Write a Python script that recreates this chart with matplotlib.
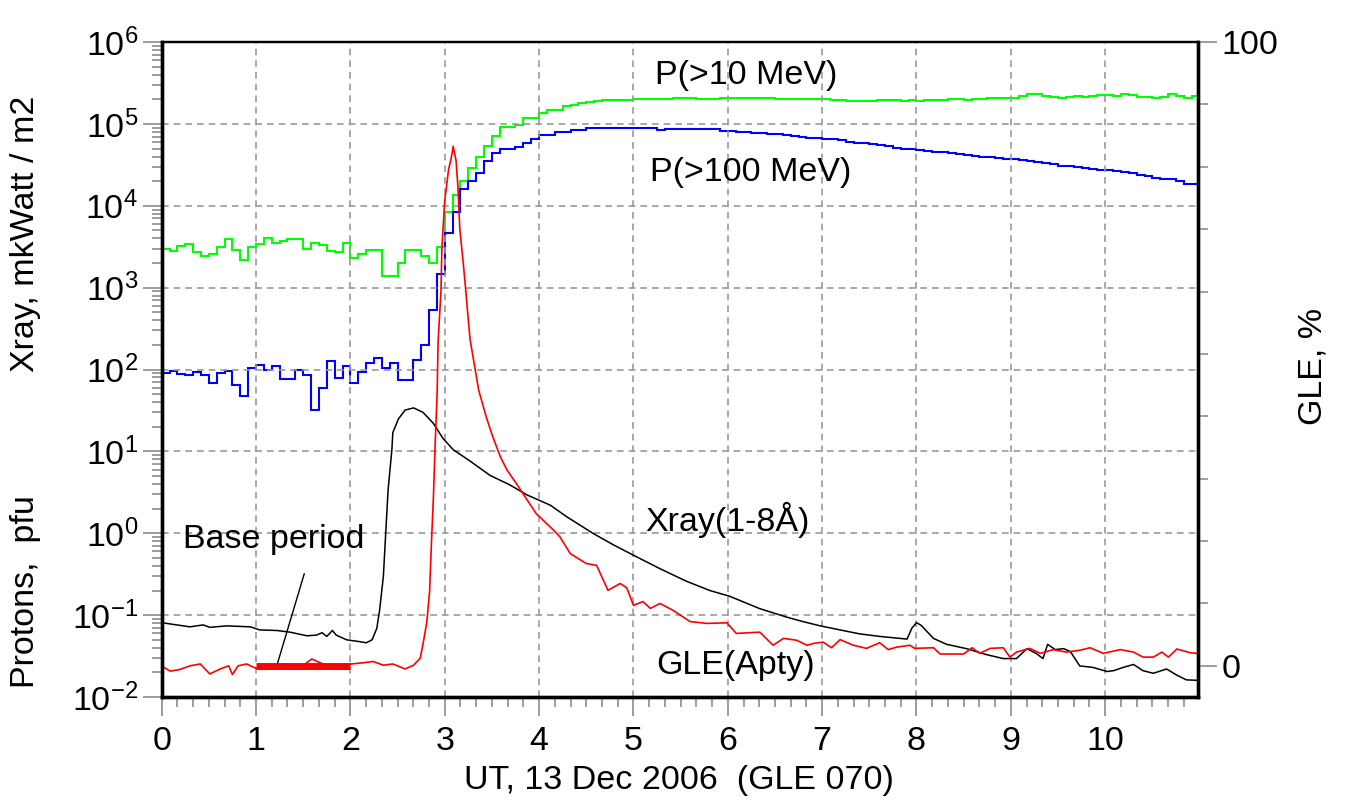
import numpy as np
import matplotlib.pyplot as plt
from matplotlib.ticker import FixedLocator, MultipleLocator, LogLocator, FuncFormatter, NullFormatter

plt.rcParams['font.family'] = 'Liberation Sans'

# proton fluxes, 5-min steps starting at 00:00 UT (pfu)
p10 = [2950, 2800, 3250, 3400, 2750, 2450, 2550, 3100, 3900, 2900, 2150, 3150,
       3400, 4050, 3500, 3700, 3900, 3900, 3000, 3500, 3300, 2800, 2700, 3550,
       2300, 2550, 2900, 2900, 1400, 1400, 2000, 2900, 2900, 2450, 2000, 3150,
       8500, 13500, 20000, 29000, 40000, 53000, 72000, 93000, 93000, 97000, 117000, 117000,
       137000, 148000, 150000, 166000, 170000, 178000, 187000, 190000, 195000,
       195000, 198000, 198000, 200000, 200000, 200000, 200000, 202000, 205000,
       205000, 205000, 203000, 203000, 203000, 205000,
       205000, 205000, 205000, 205000, 205000, 205000, 203000, 203000, 203000, 203000, 203000, 200000,
       200000, 198000, 195000, 192000, 190000, 190000, 192000, 195000, 195000, 195000, 192000, 195000,
       192000, 195000, 195000, 198000, 200000, 200000, 198000, 200000, 200000, 205000, 205000, 210000,
       210000, 220000, 230000, 235000, 220000, 215000, 210000, 215000, 220000, 215000, 220000, 225000,
       225000, 220000, 230000, 225000, 215000, 211000, 205000, 215000, 232000, 219000, 205000, 219000]

p100 = [92, 95, 89, 85, 93, 85, 68, 90, 95, 64, 48, 104,
        115, 100, 112, 76, 76, 98, 85, 32, 60, 128, 79, 110,
        68, 93, 120, 138, 105, 120, 74, 74, 130, 200, 540, 1450,
        4600, 8500, 16000, 20000, 25000, 35000, 44000, 50000, 50000, 52000, 58000, 65000,
        73000, 73000, 80000, 80000, 85000, 85000, 90000, 90000, 90000,
        90000, 90000, 90000, 90000, 90000, 88000,
        84000, 86000, 86000, 86000, 86000, 86000, 86000, 86000,
        82000, 82000, 80000, 80000,
        78000, 77000, 76000, 75000, 74000, 72000, 70000,
        68000, 67000, 66000, 65000, 63000, 61000,
        59000, 58000, 57000, 55000, 53000, 51000,
        50000, 49000, 48000, 47000, 46000, 45000, 44000, 43000, 42000, 41000, 40000, 39000, 38000,
        37500, 37000, 36000, 35000, 34000, 33000, 32000, 31000, 30500, 30000, 29000, 28000, 27500,
        27000, 26500, 26000, 25000, 24000, 23000, 22000, 21500, 21500, 20000, 18600, 18600]

# GOES X-ray 1-8 A
t_xray = [0.0, 0.16, 0.30, 0.44, 0.51, 0.69, 0.94, 1.04, 1.22, 1.36,
          1.54, 1.64, 1.70, 1.75, 1.81, 1.85, 1.96, 2.07, 2.17, 2.23,
          2.28, 2.31, 2.35, 2.37, 2.40, 2.44, 2.45, 2.51, 2.58, 2.67,
          2.77, 2.88, 2.98, 3.09, 3.27, 3.48, 3.69, 3.87, 4.12, 4.29,
          4.57, 4.79, 5.0, 5.28, 5.56, 5.81, 6.02, 6.34, 6.62, 6.77,
          6.98, 7.19, 7.40, 7.61, 7.90, 7.95, 8.0, 8.05, 8.18, 8.32,
          8.53, 8.74, 8.92, 9.06, 9.17, 9.27, 9.34, 9.39, 9.47, 9.56,
          9.63, 9.73, 9.87, 10.02, 10.09, 10.19, 10.30, 10.40, 10.51, 10.65,
          10.76, 10.86, 10.98]
xray = [0.081, 0.076, 0.072, 0.076, 0.071, 0.074, 0.072, 0.066, 0.065, 0.062,
        0.056, 0.057, 0.061, 0.055, 0.065, 0.057, 0.050, 0.048, 0.046, 0.050,
        0.069, 0.115, 0.30, 0.8, 3.4, 10.5, 17, 25, 32, 34,
        30, 22, 14.5, 10.5, 7.6, 5.1, 3.9, 2.95, 2.2, 1.6,
        1.0, 0.72, 0.54, 0.37, 0.26, 0.20, 0.17, 0.12, 0.095, 0.085,
        0.074, 0.066, 0.059, 0.055, 0.051, 0.069, 0.081, 0.075, 0.052, 0.044,
        0.039, 0.033, 0.0295, 0.0295, 0.039, 0.034, 0.0295, 0.044, 0.038, 0.039,
        0.036, 0.024, 0.023, 0.0205, 0.021, 0.023, 0.025, 0.021, 0.0195, 0.022,
        0.0185, 0.0162, 0.016]

# Apatity neutron monitor, GLE increase in %
t_gle = [0.0, 0.02, 0.09, 0.19, 0.30, 0.41, 0.51, 0.62, 0.71, 0.75,
         0.81, 0.90, 1.0, 1.11, 1.22, 1.36, 1.47, 1.59, 1.68, 1.78,
         1.89, 2.01, 2.14, 2.24, 2.35, 2.45, 2.58, 2.67, 2.74, 2.77,
         2.81, 2.84, 2.86, 2.88, 2.90, 2.92, 2.93, 2.96, 2.97, 3.0,
         3.04, 3.07, 3.09, 3.12, 3.14, 3.16, 3.20, 3.23, 3.25, 3.27,
         3.36, 3.44, 3.51, 3.59, 3.66, 3.76, 3.83, 3.97, 4.15, 4.22,
         4.33, 4.50, 4.61, 4.73, 4.86, 4.93, 5.00, 5.10, 5.18, 5.28,
         5.42, 5.60, 5.78, 5.99, 6.09, 6.34, 6.48, 6.59, 6.73, 6.84,
         6.91, 7.01, 7.10, 7.19, 7.33, 7.47, 7.61, 7.70, 7.79, 7.93,
         7.98, 8.18, 8.25, 8.50, 8.59, 8.67, 8.78, 8.92, 8.99, 9.06,
         9.20, 9.31, 9.45, 9.59, 9.73, 9.84, 9.98, 10.16, 10.30, 10.40,
         10.51, 10.60, 10.67, 10.76, 10.90, 10.98]
gle = [-0.2, -0.2, -0.85, -0.6, 0.0, 0.3, -1.3, -0.5, 0.0, -1.4,
       0.0, 0.3, -0.4, -0.2, 0.1, -0.4, -0.3, 1.1, 0.5, -0.2,
       0.0, 0.3, 0.5, 0.7, 0.1, 0.3, -0.5, 0.1, 1.2, 3.5,
       7.0, 12.0, 20.0, 27.0, 36.0, 44.0, 52.0, 60.0, 67.0, 74.5,
       79.5, 81.5, 83.3, 81.0, 76.8, 70.0, 64.0, 59.0, 55.4, 52.2,
       44.2, 39.9, 36.7, 33.5, 31.4, 29.2, 27.6, 24.4, 21.8, 20.7,
       18.0, 16.4, 16.1, 12.1, 13.2, 12.5, 9.7, 10.3, 9.2, 10.0,
       8.9, 7.1, 6.8, 6.9, 5.2, 5.4, 3.3, 4.4, 4.1, 3.3,
       3.6, 3.8, 2.9, 4.2, 3.3, 2.8, 3.7, 2.6, 3.0, 3.3,
       2.8, 2.9, 1.9, 1.9, 2.9, 2.0, 2.8, 2.9, 1.4, 2.2,
       2.8, 2.0, 2.6, 2.2, 2.5, 2.9, 2.0, 2.6, 2.2, 1.4,
       1.4, 2.2, 1.4, 2.7, 2.1, 2.0]

base_period = [1, 2]
hours = list(range(11))

tick_grey = '#8c8c8c'
fs = 24.5

fig = plt.figure(figsize=(13.46, 8.01), dpi=100)
ax = fig.add_axes([0.1201, 0.1298, 0.7697, 0.8177])

edges = np.arange(len(p10) + 1) / 12.0
ax.stairs(p10, edges, baseline=None, color='#00ff00', lw=1.5)
ax.stairs(p100, edges, baseline=None, color='#0000ff', lw=1.5)
ax.plot(t_xray, xray, color='black', lw=1.1)

ax.set_yscale('log')
ax.set_ylim(1e-2, 1e6)
ax.set_xlim(0, 10.98)
ax.yaxis.set_major_locator(LogLocator(base=10, numticks=20))
ax.yaxis.set_minor_locator(LogLocator(base=10, subs=np.arange(2, 10), numticks=20))
ax.yaxis.set_major_formatter(FuncFormatter(lambda v, p: r'$\mathregular{10^{%d}}$' % round(np.log10(v))))
ax.yaxis.set_minor_formatter(NullFormatter())
ax.xaxis.set_major_locator(FixedLocator(hours))
ax.xaxis.set_minor_locator(MultipleLocator(1 / 6))
ax.grid(True, which='major', linestyle=(0, (4, 3)), color='#999999', lw=1.2)

ax.tick_params(which='major', length=14, width=1.2, color=tick_grey, labelsize=fs)
ax.tick_params(which='minor', length=7.5, width=1.2, color=tick_grey)
ax.tick_params(axis='y', pad=3)
ax.tick_params(axis='x', pad=7)

ax2 = ax.twinx()
ax2.plot(t_gle, gle, color='red', lw=1.2)
ax2.plot(base_period, [0, 0], color='red', lw=5, solid_capstyle='butt')
ax2.set_ylim(-5, 100)
ax2.yaxis.set_major_locator(FixedLocator([0, 100]))
ax2.yaxis.set_minor_locator(MultipleLocator(10))
ax2.tick_params(which='major', length=14, width=1.2, color=tick_grey, labelsize=fs, pad=3)
ax2.tick_params(which='minor', length=7.5, width=1.2, color=tick_grey)

for a in (ax, ax2):
    for side in ('left', 'bottom', 'right'):
        a.spines[side].set_linewidth(2.4)
    a.spines['top'].set_linewidth(1.6)

# curve labels (right axis units)
ax2.text(6.20, 94.7, 'P(>10 MeV)', ha='center', va='center', fontsize=fs)
ax2.text(6.24, 79.1, 'P(>100 MeV)', ha='center', va='center', fontsize=fs)
ax2.text(6.0, 23.4, 'Xray(1-8Å)', ha='center', va='center', fontsize=fs)
ax2.text(6.08, 0, 'GLE(Apty)', ha='center', va='center', fontsize=fs)
ax2.text(1.19, 20.3, 'Base period', ha='center', va='center', fontsize=fs)
ax2.annotate('', xy=(1.22, 0), xytext=(1.52, 15.2),
             arrowprops=dict(arrowstyle='-', color='black', lw=1))

fig.text(0.0186, 0.708, 'Xray, mkWatt / m2', rotation=90, ha='center', va='center', fontsize=fs)
fig.text(0.0186, 0.261, 'Protons,  pfu', rotation=90, ha='center', va='center', fontsize=fs)
fig.text(0.9755, 0.542, 'GLE, %', rotation=90, ha='center', va='center', fontsize=fs)
fig.text(0.5045, 0.026, 'UT, 13 Dec 2006  (GLE 070)', ha='center', va='center', fontsize=fs)

fig.savefig('out.png', dpi=100)
